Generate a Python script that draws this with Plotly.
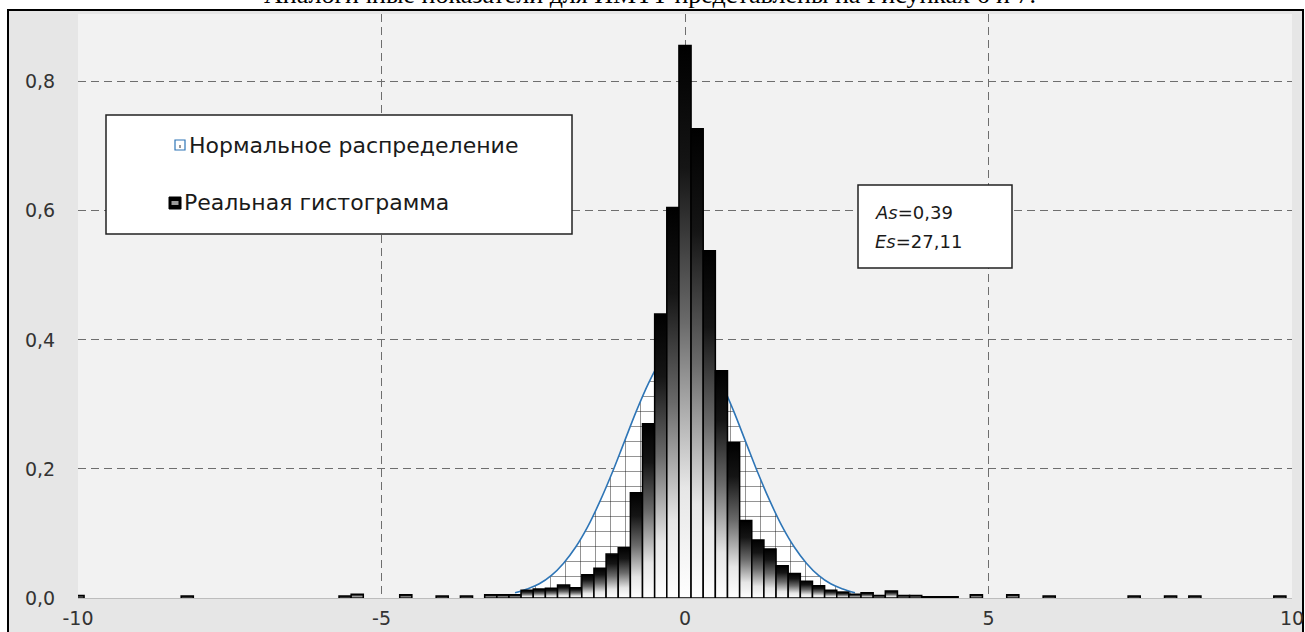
import plotly.graph_objects as go

# Histogram bins (centre, height); bins are 0.2 wide
bin_centers = [-10.0, -8.2, -5.6, -5.4, -4.6, -4.0, -3.6, -3.2, -3.0, -2.8,
               -2.6, -2.4, -2.2, -2.0, -1.8, -1.6, -1.4, -1.2, -1.0, -0.8,
               -0.6, -0.4, -0.2, 0.0, 0.2, 0.4, 0.6, 0.8, 1.0, 1.2,
               1.4, 1.6, 1.8, 2.0, 2.2, 2.4, 2.6, 2.8, 3.0, 3.2,
               3.4, 3.6, 3.8, 4.0, 4.2, 4.4, 4.8, 5.4, 6.0, 7.4,
               8.0, 8.4, 9.8]
bin_heights = [0.004, 0.003, 0.003, 0.006, 0.005, 0.003, 0.003, 0.005, 0.005, 0.005,
               0.012, 0.014, 0.015, 0.020, 0.016, 0.036, 0.046, 0.068, 0.078, 0.163,
               0.270, 0.440, 0.605, 0.856, 0.727, 0.538, 0.352, 0.241, 0.120, 0.090,
               0.076, 0.050, 0.038, 0.026, 0.019, 0.012, 0.009, 0.006, 0.008, 0.004,
               0.011, 0.004, 0.004, 0.002, 0.002, 0.002, 0.005, 0.005, 0.003, 0.003,
               0.003, 0.003, 0.003]
bin_width = 0.2

# Normal density curve
normal_x = [-2.8, -2.6, -2.4, -2.2, -2.0, -1.8, -1.6, -1.4, -1.2, -1.0,
            -0.8, -0.6, -0.4, -0.2, 0.0, 0.2, 0.4, 0.6, 0.8, 1.0,
            1.2, 1.4, 1.6, 1.8, 2.0, 2.2, 2.4, 2.6, 2.8]
normal_y = [0.008, 0.014, 0.022, 0.035, 0.054, 0.079, 0.111, 0.150, 0.194, 0.242,
            0.290, 0.333, 0.368, 0.391, 0.399, 0.391, 0.368, 0.333, 0.290, 0.242,
            0.194, 0.150, 0.111, 0.079, 0.054, 0.035, 0.022, 0.014, 0.008]

x_ticks = [-10, -5, 0, 5, 10]
x_ticktext = ["-10", "-5", "0", "5", "10"]
y_ticks = [0.0, 0.2, 0.4, 0.6, 0.8]
y_ticktext = ["0,0", "0,2", "0,4", "0,6", "0,8"]

legend_labels = ["Нормальное распределение", "Реальная гистограмма"]
stats_lines = ["<i>As</i>=0,39", "<i>Es</i>=27,11"]
caption = "Аналогичные показатели для ИМТТ представлены на Рисунках 6 и 7."

W, H = 1305, 632
PL, PR, PT, PB = 78, 1292, 14, 598


def px(x):
    return x / W


def py(y):
    return 1 - y / H


fig = go.Figure()

# normal curve: white dotted-grid area with a blue outline
fig.add_trace(go.Scatter(
    x=normal_x, y=normal_y, mode="lines",
    line=dict(color="#2e75b6", width=1.6, shape="spline"),
    fill="tozeroy", fillcolor="white",
    fillpattern=dict(shape="+", size=15, solidity=0.06,
                     fgcolor="#111111", bgcolor="white", fillmode="replace"),
    showlegend=False, hoverinfo="skip",
))

# histogram bars with a dark-top gradient fill
grad = [[0.0, "#ffffff"], [0.2, "#e6e6e6"], [0.5, "#6a6a6a"],
        [0.78, "#151515"], [1.0, "#000000"]]
for cx, h in zip(bin_centers, bin_heights):
    x0, x1 = cx - bin_width / 2, cx + bin_width / 2
    fig.add_trace(go.Scatter(
        x=[x0, x0, x1, x1, x0], y=[0, h, h, 0, 0], mode="lines",
        line=dict(color="black", width=1.5),
        fill="toself",
        fillgradient=dict(type="vertical", colorscale=grad, start=0, stop=h),
        showlegend=False, hoverinfo="skip",
    ))

shapes = [
    # chart area
    dict(type="rect", xref="paper", yref="paper", layer="below",
         x0=px(8), x1=px(1303), y0=py(640), y1=py(10),
         fillcolor="#e6e6e6", line=dict(color="black", width=2)),
    # plot area
    dict(type="rect", xref="paper", yref="paper", layer="below",
         x0=px(PL), x1=px(PR), y0=py(PB), y1=py(PT),
         fillcolor="#f2f2f2", line=dict(width=0)),
    # legend box
    dict(type="rect", xref="paper", yref="paper", layer="above",
         x0=px(106), x1=px(572), y0=py(234), y1=py(115),
         fillcolor="white", line=dict(color="#222222", width=1.5)),
    # legend icon: normal distribution
    dict(type="rect", xref="paper", yref="paper", layer="above",
         x0=px(175), x1=px(185), y0=py(150), y1=py(140),
         fillcolor="white", line=dict(color="#2e75b6", width=1.2)),
    dict(type="line", xref="paper", yref="paper", layer="above",
         x0=px(180), x1=px(180), y0=py(148), y1=py(142),
         line=dict(color="#333333", width=1, dash="dot")),
    # legend icon: histogram
    dict(type="rect", xref="paper", yref="paper", layer="above",
         x0=px(169), x1=px(181), y0=py(209), y1=py(197),
         fillcolor="black", line=dict(color="black", width=1)),
    dict(type="rect", xref="paper", yref="paper", layer="above",
         x0=px(171.5), x1=px(178.5), y0=py(205), y1=py(201),
         fillcolor="#9a9a9a", line=dict(width=0)),
    # statistics box
    dict(type="rect", xref="paper", yref="paper", layer="above",
         x0=px(858), x1=px(1012), y0=py(268), y1=py(185),
         fillcolor="white", line=dict(color="#222222", width=1.5)),
]

annotations = [
    dict(text=legend_labels[0], xref="paper", yref="paper", x=px(187), y=py(145),
         xanchor="left", yanchor="middle", showarrow=False,
         font=dict(family="DejaVu Sans", size=22, color="#1a1a1a")),
    dict(text=legend_labels[1], xref="paper", yref="paper", x=px(182), y=py(203),
         xanchor="left", yanchor="middle", showarrow=False,
         font=dict(family="DejaVu Sans", size=22, color="#1a1a1a")),
    dict(text=stats_lines[0], xref="paper", yref="paper", x=px(873), y=py(212),
         xanchor="left", yanchor="middle", showarrow=False,
         font=dict(family="DejaVu Sans", size=18, color="#1a1a1a")),
    dict(text=stats_lines[1], xref="paper", yref="paper", x=px(873), y=py(241),
         xanchor="left", yanchor="middle", showarrow=False,
         font=dict(family="DejaVu Sans", size=18, color="#1a1a1a")),
    dict(text=caption, xref="paper", yref="paper", x=px(650), y=py(-5),
         xanchor="center", yanchor="middle", showarrow=False,
         font=dict(family="Liberation Serif", size=26, color="black")),
]

fig.update_layout(
    width=W, height=H,
    margin=dict(l=0, r=0, t=0, b=0, pad=0),
    paper_bgcolor="white",
    plot_bgcolor="rgba(0,0,0,0)",
    showlegend=False,
    shapes=shapes,
    annotations=annotations,
    xaxis=dict(
        domain=[px(PL), px(PR)], range=[-10, 10], automargin=False,
        tickvals=x_ticks, ticktext=x_ticktext,
        showgrid=True, gridcolor="#6e6e6e", gridwidth=1, griddash="8px,5px",
        zeroline=False, showline=True, linecolor="#bdbdbd", linewidth=1,
        ticks="outside", ticklen=3, tickcolor="rgba(0,0,0,0)",
        tickfont=dict(family="DejaVu Sans", size=19, color="#333333"),
    ),
    yaxis=dict(
        domain=[py(PB), py(PT)], range=[0, 0.905], automargin=False,
        tickvals=y_ticks, ticktext=y_ticktext,
        showgrid=True, gridcolor="#6e6e6e", gridwidth=1, griddash="8px,5px",
        zeroline=False, showline=False,
        ticks="outside", ticklen=18, tickcolor="rgba(0,0,0,0)",
        tickfont=dict(family="DejaVu Sans", size=19, color="#333333"),
    ),
)

fig.write_html("out.html")
